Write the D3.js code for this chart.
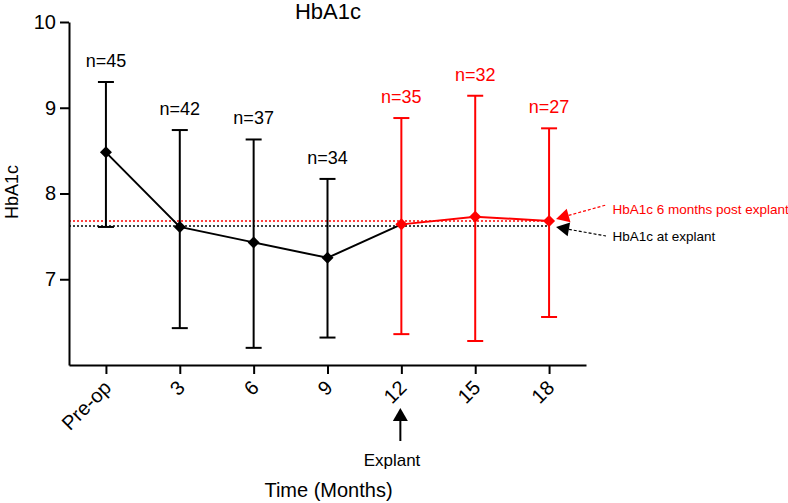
<!DOCTYPE html>
<html>
<head>
<meta charset="utf-8">
<script src="https://cdn.jsdelivr.net/npm/d3@7"></script>
<style>
  html, body { margin: 0; padding: 0; background: #fff; }
  svg { display: block; font-family: "Liberation Sans", Arial, Helvetica, sans-serif; }
</style>
</head>
<body>
<svg id="chart" width="788" height="503"></svg>
<script>
// ---- data ----
const categories = ["Pre-op", "3", "6", "9", "12", "15", "18"];
const means = [8.48, 7.61, 7.43, 7.25, 7.64, 7.73, 7.68];
const upper = [9.30, 8.74, 8.63, 8.17, 8.88, 9.14, 8.76];
const lower = [7.61, 6.43, 6.20, 6.32, 6.36, 6.28, 6.56];
const nLabels = ["n=45", "n=42", "n=37", "n=34", "n=35", "n=32", "n=27"];
const postExplant = [false, false, false, false, true, true, true];
const yTicks = [7, 8, 9, 10];
const refAtExplant = 7.62;
const refPostExplant = 7.68;
const refLabels = ["HbA1c 6 months post explant", "HbA1c at explant"];

const RED = "#ff0000", BLACK = "#000000";
const svg = d3.select("#chart");

const x = d3.scalePoint().domain(categories).range([69, 586]).padding(0.5);
const y = d3.scaleLinear().domain([6, 10]).range([365, 22]);

const data = categories.map((c, i) => ({
  c, mean: means[i], hi: upper[i], lo: lower[i], n: nLabels[i],
  color: postExplant[i] ? RED : BLACK
}));

// reference dotted lines
const lastX = x(categories[categories.length - 1]);
svg.append("line").attr("x1", 69).attr("x2", lastX)
  .attr("y1", y(refPostExplant)).attr("y2", y(refPostExplant))
  .attr("stroke", RED).attr("stroke-width", 1.5).attr("stroke-dasharray", "2,2");
svg.append("line").attr("x1", 69).attr("x2", lastX)
  .attr("y1", y(refAtExplant)).attr("y2", y(refAtExplant))
  .attr("stroke", BLACK).attr("stroke-width", 1.5).attr("stroke-dasharray", "2,2");

// axes
const yAxis = svg.append("g").attr("transform", "translate(69,0)")
  .call(d3.axisLeft(y).tickValues(yTicks).tickFormat(d3.format("d"))
    .tickSize(9).tickSizeOuter(0).tickPadding(4));
const xAxis = svg.append("g").attr("transform", "translate(0,365)")
  .call(d3.axisBottom(x).tickSize(9).tickSizeOuter(0));
[yAxis, xAxis].forEach(g => {
  g.select(".domain").attr("stroke-width", 2);
  g.selectAll(".tick line").attr("stroke-width", 2);
});
yAxis.selectAll(".tick text").attr("font-size", 20).attr("fill", "#000");
xAxis.selectAll(".tick text")
  .attr("font-size", 20).attr("fill", "#000")
  .attr("text-anchor", "end")
  .attr("y", 0).attr("dy", "0.35em")
  .attr("transform", "translate(1,19) rotate(-45)");

// error bars
const cap = 8;
data.forEach(d => {
  const cx = x(d.c);
  const g = svg.append("g").attr("stroke", d.color).attr("stroke-width", 2);
  g.append("line").attr("x1", cx).attr("x2", cx).attr("y1", y(d.hi)).attr("y2", y(d.lo));
  g.append("line").attr("x1", cx - cap).attr("x2", cx + cap).attr("y1", y(d.hi)).attr("y2", y(d.hi));
  g.append("line").attr("x1", cx - cap).attr("x2", cx + cap).attr("y1", y(d.lo)).attr("y2", y(d.lo));
});

// connecting lines
const line = d3.line().x(d => x(d.c)).y(d => y(d.mean));
svg.append("path").datum(data.slice(0, 5)).attr("d", line)
  .attr("fill", "none").attr("stroke", BLACK).attr("stroke-width", 2);
svg.append("path").datum(data.slice(4)).attr("d", line)
  .attr("fill", "none").attr("stroke", RED).attr("stroke-width", 2);

// diamond markers
svg.selectAll(".pt").data(data).enter().append("path")
  .attr("transform", d => `translate(${x(d.c)},${y(d.mean)})`)
  .attr("d", "M0,-6L6,0L0,6L-6,0Z")
  .attr("fill", d => d.color);

// n labels
svg.selectAll(".nl").data(data).enter().append("text")
  .attr("x", d => x(d.c)).attr("y", d => y(d.hi) - 15)
  .attr("text-anchor", "middle").attr("font-size", 18)
  .attr("fill", d => d.color).text(d => d.n);

// title
svg.append("text").attr("x", 328).attr("y", 19).attr("text-anchor", "middle")
  .attr("font-size", 22).text("HbA1c");

// y label
svg.append("text").attr("transform", "translate(18,192) rotate(-90)")
  .attr("text-anchor", "middle").attr("font-size", 18).text("HbA1c");

// x label
svg.append("text").attr("x", 328.5).attr("y", 496.5).attr("text-anchor", "middle")
  .attr("font-size", 20).text("Time (Months)");

// explant arrow
const ex = x("12") - 1;
svg.append("line").attr("x1", ex).attr("x2", ex).attr("y1", 419).attr("y2", 441)
  .attr("stroke", BLACK).attr("stroke-width", 2);
svg.append("path").attr("d", `M${ex},408L${ex + 7.5},421L${ex - 7.5},421Z`).attr("fill", BLACK);
svg.append("text").attr("x", 392).attr("y", 465.5).attr("text-anchor", "middle")
  .attr("font-size", 17).text("Explant");

// reference annotations
function annot(tipY, tailY, color, label, textY) {
  const tipX = lastX + 7, tailX = 606;
  const ang = Math.atan2(tailY - tipY, tailX - tipX);
  const hl = 13, hw = 7;
  const bx = tipX + hl * Math.cos(ang), by = tipY + hl * Math.sin(ang);
  const px = -Math.sin(ang) * hw, py = Math.cos(ang) * hw;
  svg.append("line").attr("x1", bx).attr("y1", by).attr("x2", tailX).attr("y2", tailY)
    .attr("stroke", color).attr("stroke-width", 1.2).attr("stroke-dasharray", "3,2");
  svg.append("path").attr("d", `M${tipX},${tipY}L${bx + px},${by + py}L${bx - px},${by - py}Z`)
    .attr("fill", color);
  svg.append("text").attr("x", 612.5).attr("y", textY).attr("font-size", 13.5)
    .attr("fill", color).text(label);
}
annot(y(refPostExplant) - 2, 205, RED, refLabels[0], 213.5);
annot(y(refAtExplant) + 1, 236, BLACK, refLabels[1], 240.5);
</script>
</body>
</html>
